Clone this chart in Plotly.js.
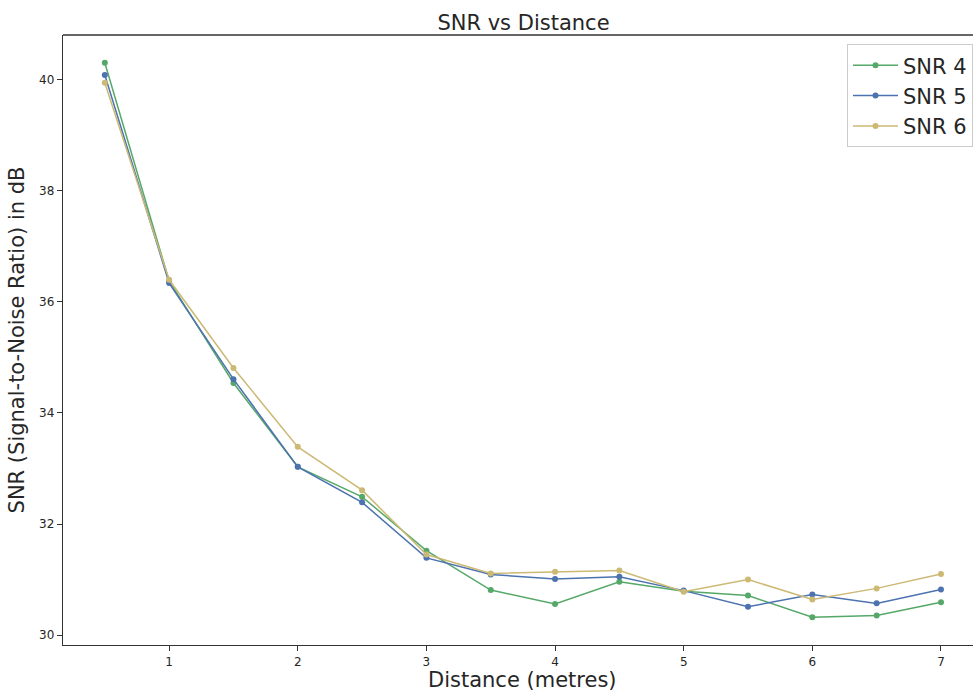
<!DOCTYPE html>
<html>
<head>
<meta charset="utf-8">
<script src="https://cdn.plot.ly/plotly-3.0.1.min.js"></script>
<style>html,body{margin:0;padding:0;background:#fff;}#chart{width:973px;height:695px;}</style>
</head>
<body>
<div id="chart"></div>
<script>
const distance = [0.5, 1, 1.5, 2, 2.5, 3, 3.5, 4, 4.5, 5, 5.5, 6, 6.5, 7];
const snr4 = [40.31, 36.38, 34.54, 33.03, 32.49, 31.52, 30.81, 30.56, 30.96, 30.79, 30.71, 30.32, 30.35, 30.59];
const snr5 = [40.09, 36.34, 34.61, 33.03, 32.39, 31.39, 31.09, 31.01, 31.05, 30.80, 30.51, 30.73, 30.57, 30.82];
const snr6 = [39.95, 36.40, 34.81, 33.39, 32.61, 31.45, 31.11, 31.14, 31.16, 30.78, 31.00, 30.64, 30.84, 31.10];
const seriesNames = ["SNR 4", "SNR 5", "SNR 6"];
const xTicks = [1, 2, 3, 4, 5, 6, 7];
const yTicks = [30, 32, 34, 36, 38, 40];

const colors = ["#55a868", "#4c72b0", "#ccb974"];
const data = [snr4, snr5, snr6].map((ys, i) => ({
  x: distance, y: ys, name: seriesNames[i], type: "scatter", mode: "lines+markers",
  line: {color: colors[i], width: 1.5},
  marker: {color: colors[i], size: 6, symbol: "circle"}
}));

const axisCommon = {
  showgrid: false, zeroline: false, showline: true, mirror: false,
  linecolor: "#333", linewidth: 1.3, ticks: "outside", ticklen: 5, tickwidth: 1,
  tickcolor: "#333", tickfont: {family: "DejaVu Sans", size: 12, color: "#262626"}
};

const layout = {
  width: 973, height: 695,
  margin: {l: 63, r: 0, t: 35, b: 50, autoexpand: false},
  paper_bgcolor: "#fff", plot_bgcolor: "#fff",
  title: {text: "SNR vs Distance", font: {family: "DejaVu Sans", size: 21, color: "#262626"}, x: 0.538, xanchor: "center", y: 0.968, yanchor: "middle"},
  xaxis: Object.assign({}, axisCommon, {
    range: [0.175, 7.249], tickvals: xTicks, ticktext: xTicks.map(String)
  }),
  yaxis: Object.assign({}, axisCommon, {
    range: [29.82, 40.81], tickvals: yTicks, ticktext: yTicks.map(String),
    title: {text: "SNR (Signal-to-Noise Ratio) in dB", font: {family: "DejaVu Sans", size: 21, color: "#262626"}, standoff: 8}
  }),
  annotations: [{text: "Distance (metres)", xref: "paper", yref: "paper", x: 0.5053, y: -0.058,
                 xanchor: "center", yanchor: "middle", showarrow: false,
                 font: {family: "DejaVu Sans", size: 21, color: "#262626"}}],
  shapes: [{type: "line", xref: "paper", yref: "paper", x0: 0, x1: 1, y0: 1, y1: 1,
            line: {color: "#333", width: 1.3}}],
  legend: {
    x: 1, xanchor: "right", y: 0.985, yanchor: "top",
    bgcolor: "rgba(255,255,255,0.8)", bordercolor: "#ccc", borderwidth: 1,
    font: {family: "DejaVu Sans", size: 21, color: "#262626"},
    itemwidth: 45, tracegroupgap: 6
  },
  showlegend: true
};

Plotly.newPlot("chart", data, layout, {displayModeBar: false, staticPlot: true});
</script>
</body>
</html>
